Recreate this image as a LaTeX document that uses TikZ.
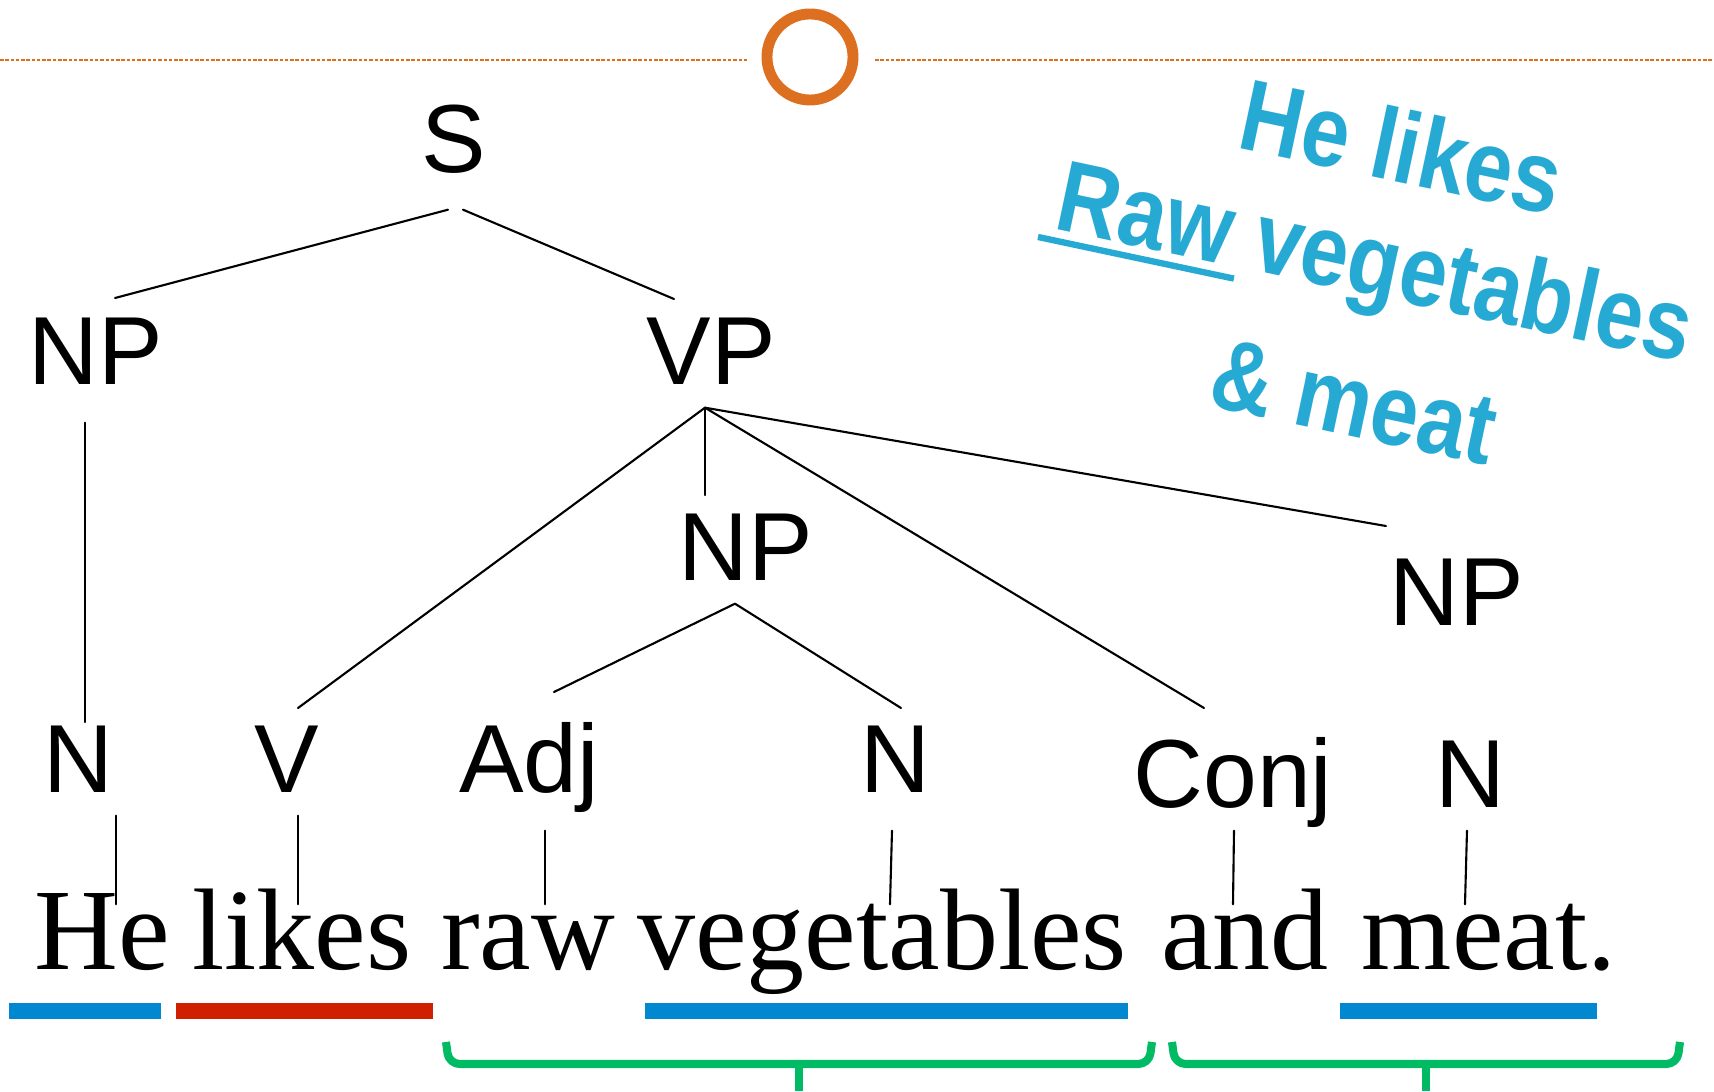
\documentclass[tikz,border=0pt]{standalone}
\usepackage{fontspec}
\usepackage{graphicx}
\setmainfont{Liberation Serif}
\newfontfamily\labelfont{Liberation Sans}
\usetikzlibrary{calc}
\definecolor{rimorange}{RGB}{221,111,32}
\definecolor{npblue}{RGB}{2,136,209}
\definecolor{vred}{RGB}{207,32,0}
\definecolor{bracegreen}{RGB}{0,187,100}
\definecolor{artcyan}{RGB}{38,170,212}
\newcommand\artul[1]{\setbox0\hbox{#1}\rlap{\kern-3.5pt\rule[-3.5pt]{\dimexpr\wd0+6.5pt}{1.5pt}}\box0\relax}
\tikzset{
  cat/.style={font=\labelfont\fontsize{27.5}{33}\selectfont, inner sep=0pt,
    text height=19.7pt, text depth=0pt, anchor=base},
  word/.style={font=\fontsize{33}{40}\selectfont, inner sep=0pt,
    text height=18.5pt, text depth=0pt, anchor=base},
  art/.style={font=\labelfont\bfseries\fontsize{24}{28}\selectfont,
    text=artcyan, rotate=-12, inner sep=0pt},
  branch/.style={line width=0.6pt},
  brace/.style={draw=bracegreen, line width=2.3pt, line cap=butt, rounded corners=3pt}
}
\begin{document}
\begin{tikzpicture}[x=0.01cm, y=-0.01cm, line cap=round, line join=round]
\useasboundingbox (0,0) rectangle (1714,1092);
\draw[rimorange, line width=0.6pt, line cap=butt, dash pattern=on 1pt off 0.5pt]
  (0,60) -- (747,60) (875,60) -- (1714,60);
\draw[rimorange, line width=3.1pt] (810,57) circle[radius=0.43cm];

\node[cat] (S) at (454,173) {S};
\node[cat] (NPl) at (96,385) {NP};
\node[cat] (VP) at (711,385) {VP};
\node[cat] (NPm) at (746,581) {NP};
\node[cat] (NPr) at (1457,626) {NP};
\node[cat] (Nhe) at (78,793) {N};
\node[cat] (V) at (287,793) {V};
\node[cat] (Adj) at (529,793) {Adj};
\node[cat] (Nveg) at (895,793) {N};
\node[cat] (Conj) at (1233,808) {Conj};
\node[cat] (Nmeat) at (1470,808) {N};

\node[word] (he) at (102,970) {He};
\node[word] (likes) at (302,970) {likes};
\node[word] (raw) at (528,970) {raw};
\node[word] (veg) at (882,970) {vegetables};
\node[word] (and) at (1245,970) {and};
\node[word] (meat) at (1489,970) {meat.};

\coordinate (vpfoot) at ($(VP.south)+(-6,22)$);
\coordinate (npfoot) at ($(NPm.south)+(-11,22)$);
\draw[branch] ($(S.south)+(-6,36)$) -- ($(NPl.north)+(19,-17)$);
\draw[branch] ($(S.south)+(9,36)$) -- ($(VP.north)+(-37,-16)$);
\draw[branch] ($(NPl.south)+(-11,37)$) -- ($(Nhe.north)+(7,-1)$);
\foreach \n/\dx/\dy in {V/11/-15, NPm/-41/-16, Conj/-29/-30, NPr/-71/-30}
  {\draw[branch] (vpfoot) -- ($(\n.north)+(\dx,\dy)$);}
\foreach \n/\dx/\dy in {Adj/25/-31, Nveg/6/-15}
  {\draw[branch] (npfoot) -- ($(\n.north)+(\dx,\dy)$);}
\foreach \a/\da/\dy/\b/\db in {Nhe/38/22/he/14, V/11/22/likes/-4, Adj/16/37/raw/17,
    Nveg/-3/37/veg/8, Conj/1/22/and/-12, Nmeat/-3/22/meat/-24}
  {\draw[branch] ($(\a.south)+(\da,\dy)$) -- ($(\b.north)+(\db,0)$);}

\fill[npblue] (9,1003) rectangle (161,1019);
\fill[vred] (176,1003) rectangle (433,1019);
\fill[npblue] (645,1003) rectangle (1128,1019);
\fill[npblue] (1340,1003) rectangle (1597,1019);

\draw[brace] (446,1042) -- (449,1064) -- (1149,1064) -- (1152,1042);
\draw[brace] (799,1064) -- (799,1091);
\draw[brace] (1172,1042) -- (1175,1064) -- (1677,1064) -- (1680,1042);
\draw[brace] (1426,1064) -- (1426,1091);

\node[art] (art1) at (1402,146) {\scalebox{1.02}[1.2]{He likes}};
\node[art] (art2) at (1374,270) {\scalebox{1.02}[1.2]{\artul{Raw} vegetables}};
\node[art] (art3) at (1354,402) {\scalebox{1.02}[1.2]{\& meat}};
\end{tikzpicture}
\end{document}
